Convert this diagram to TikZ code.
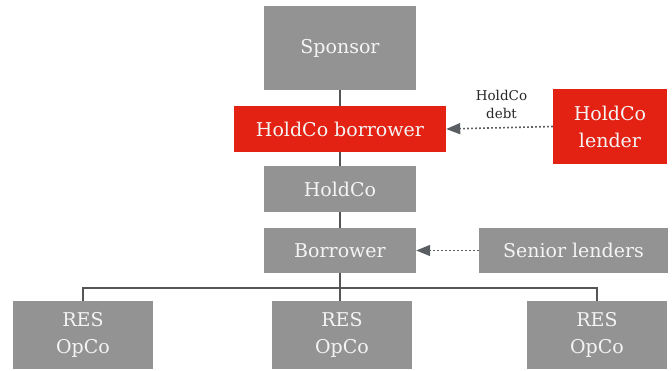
\documentclass[tikz,border=0pt]{standalone}
\usepackage{fontspec}
\setmainfont{DejaVu Serif}
\usetikzlibrary{arrows.meta}
\definecolor{boxgray}{HTML}{939393}
\definecolor{boxred}{HTML}{E32213}
\definecolor{txt}{HTML}{F4F4F4}
\definecolor{linegray}{HTML}{555555}
\definecolor{arrowgray}{HTML}{5A5D62}
\tikzset{
  box/.style={fill=boxgray, draw=none, text=txt, font=\fontsize{19}{27}\selectfont, align=center, inner sep=0pt},
  redbox/.style={box, fill=boxred},
  link/.style={draw=linegray, line width=1.4pt},
  feed/.style={draw=arrowgray, line width=1.6pt, dash pattern=on 1.6pt off 2.4pt, -{Triangle[length=14pt,width=11pt]}},
  lbl/.style={font=\fontsize{13.5}{18}\selectfont, text=black!85, align=center}
}
\begin{document}
\begin{tikzpicture}[x=1pt,y=-1pt]
\useasboundingbox (0,0) rectangle (672,370);
\node[box, minimum width=152pt, minimum height=84pt] (sponsor) at (340,48) {Sponsor};
\node[redbox, minimum width=212pt, minimum height=46pt] (hcb) at (340,129) {HoldCo borrower};
\node[box, minimum width=152pt, minimum height=46pt] (holdco) at (340,189) {HoldCo};
\node[box, minimum width=152pt, minimum height=45pt] (borrower) at (340,250.5) {Borrower};
\node[redbox, minimum width=114pt, minimum height=75pt] (hcl) at (610,126.5) {HoldCo\\lender};
\node[box, minimum width=189pt, minimum height=45pt] (senior) at (573.5,250.5) {Senior lenders};
\node[box, minimum width=140pt, minimum height=68pt] (op1) at (83,335) {RES\\OpCo};
\node[box, minimum width=140pt, minimum height=68pt] (op2) at (342,335) {RES\\OpCo};
\node[box, minimum width=140pt, minimum height=68pt] (op3) at (597,335) {RES\\OpCo};
\coordinate (busL) at (83,288);
\coordinate (busM) at (340,288);
\coordinate (busR) at (597,288);
\draw[link] (sponsor.south) -- (hcb.north);
\draw[link] (hcb.south) -- (holdco.north);
\draw[link] (holdco.south) -- (borrower.north);
\draw[link] (borrower.south) -- (busM);
\draw[link] (op1.north) -- (busL) -- (busR) -- (op3.north);
\draw[link] (busM) -- (op2.north -| busM);
\draw[feed] (hcl.west) -- (hcb.east) node[lbl, midway, above=5pt, xshift=2pt] {HoldCo\\debt};
\draw[feed] (senior.west) -- (borrower.east);
\end{tikzpicture}
\end{document}
